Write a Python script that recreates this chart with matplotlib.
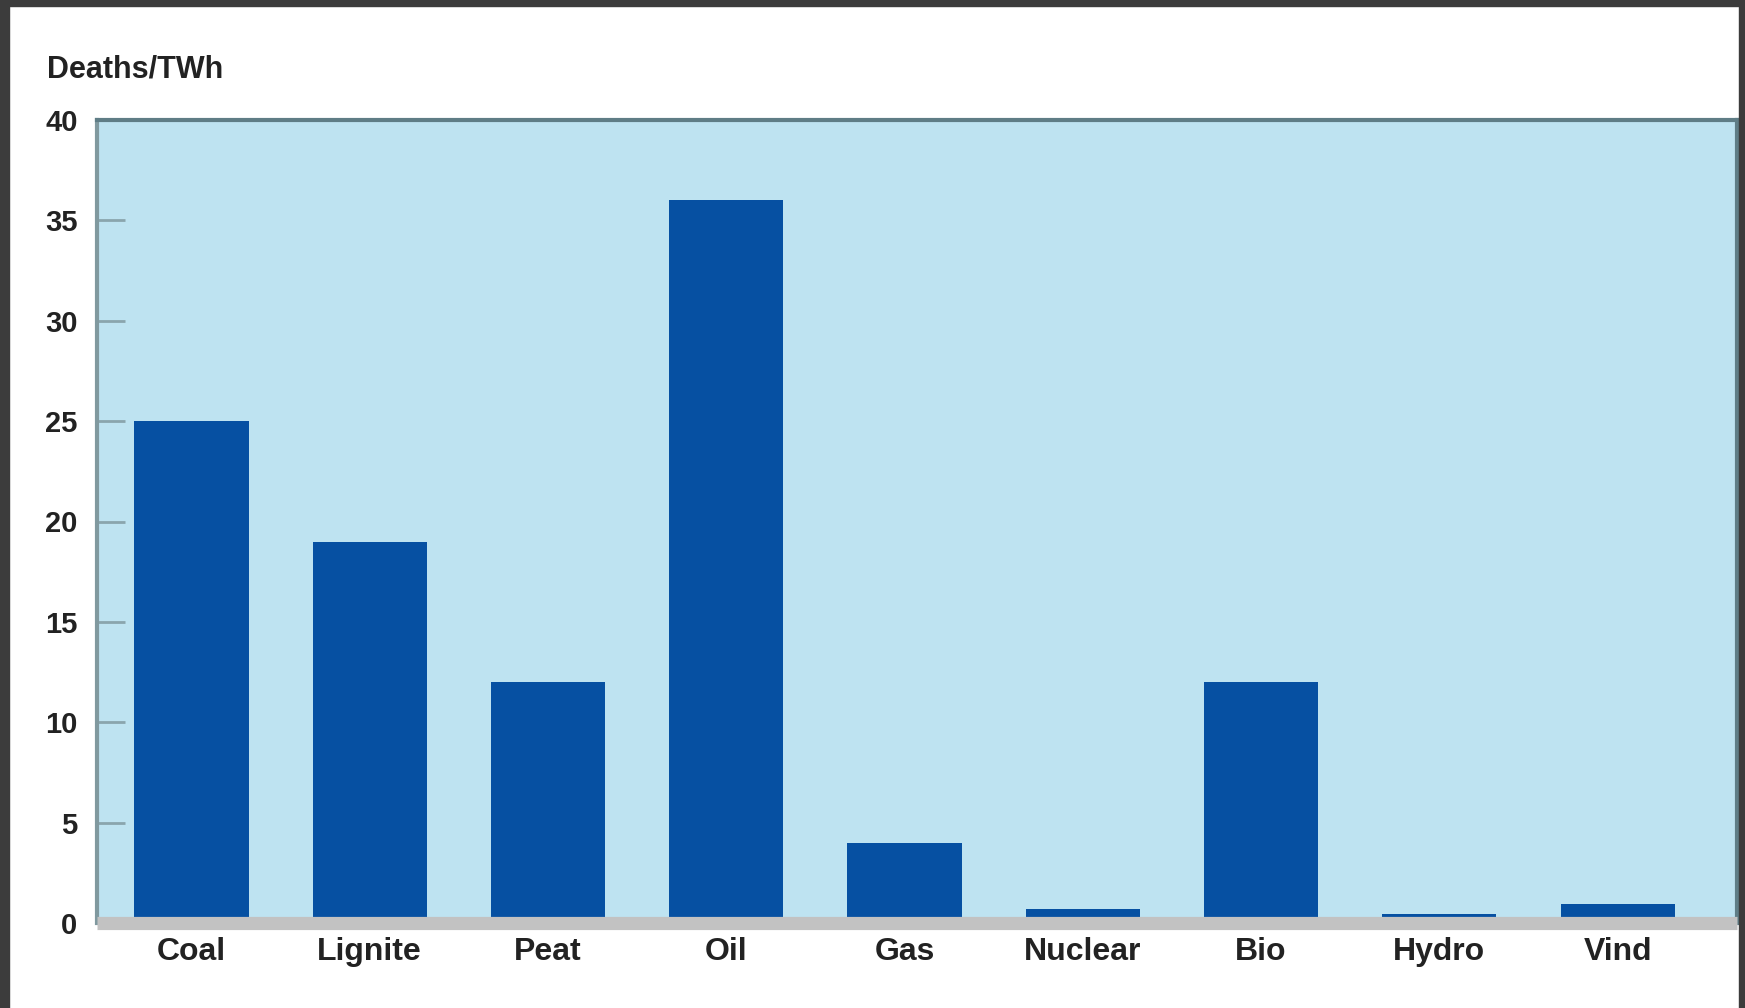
import matplotlib.pyplot as plt
from matplotlib.patches import Rectangle

plt.rcParams['font.family'] = ['Liberation Sans', 'DejaVu Sans']

# deaths per TWh for each energy source
sources = ['Coal', 'Lignite', 'Peat', 'Oil', 'Gas', 'Nuclear', 'Bio', 'Hydro', 'Vind']
deaths = [25, 19, 12, 36, 4, 0.7, 12, 0.45, 0.95]
yticks = [0, 5, 10, 15, 20, 25, 30, 35, 40]

fig = plt.figure(figsize=(17.45, 10.08), dpi=100)
fig.patch.set_facecolor('white')

# dark frame round the picture
frame = '#3c3c3c'
fig.patches.append(Rectangle((0, 1 - 6/1008), 1, 6/1008, transform=fig.transFigure,
                             color=frame, zorder=0))
fig.patches.append(Rectangle((0, 0), 9/1745, 1, transform=fig.transFigure,
                             color=frame, zorder=0))
fig.patches.append(Rectangle((1 - 6/1745, 0), 6/1745, 1, transform=fig.transFigure,
                             color=frame, zorder=0))

ax = fig.add_axes([97/1745, 1 - 923/1008, (1737 - 97)/1745, (923 - 120)/1008])
ax.set_facecolor('#bee3f1')

x = range(len(sources))
ax.bar(x, deaths, width=0.64, color='#0650a2', zorder=2)

# thick grey baseline
ax.axhline(0, color='#c2c2c2', lw=9.5, zorder=3, clip_on=False,
           solid_capstyle='butt')

ax.set_xlim(-0.53, 8.67)
ax.set_ylim(0, 40)
ax.set_yticks(yticks)
ax.set_xticks(list(x))
ax.set_xticklabels(sources)

ax.tick_params(axis='y', direction='in', length=20, width=2, color='#8aa5ad',
               labelsize=21, pad=14)
ax.tick_params(axis='x', length=0, labelsize=23, pad=10)
for lab in ax.get_xticklabels() + ax.get_yticklabels():
    lab.set_fontweight('bold')
    lab.set_color('#222222')

for side in ['top', 'left', 'right']:
    ax.spines[side].set_color('#5f7d86')
    ax.spines[side].set_linewidth(3)
ax.spines['left'].set_color('#80999f')
ax.spines['bottom'].set_visible(False)

fig.text(47/1745, 1 - 69/1008, 'Deaths/TWh', fontsize=22, fontweight='bold',
         color='#222222', va='center', ha='left')

fig.savefig('out.png', dpi=100)
